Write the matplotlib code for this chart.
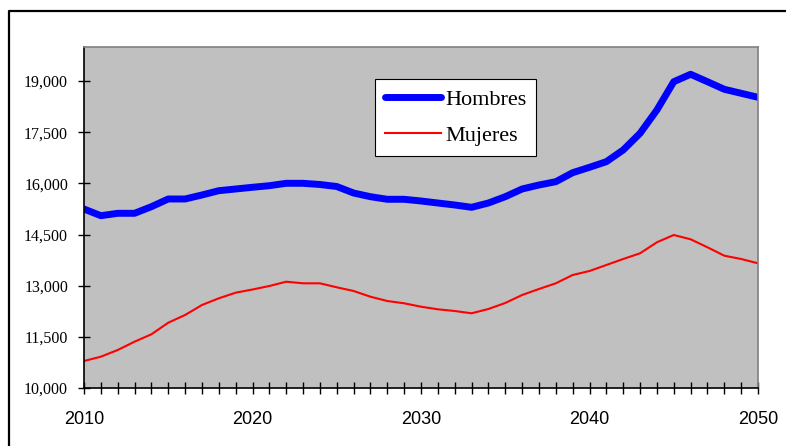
import matplotlib
matplotlib.use("Agg")
import matplotlib.pyplot as plt
from matplotlib.lines import Line2D
from matplotlib.ticker import FuncFormatter

# population series, one value per year
years = list(range(2010, 2051))
hombres = [15249, 15053, 15123, 15123, 15317, 15543, 15543, 15660, 15786, 15836,
           15886, 15933, 16003, 16003, 15968, 15909, 15718, 15610, 15534, 15534,
           15484, 15425, 15367, 15299, 15425, 15610, 15836, 15953, 16050, 16314,
           16472, 16637, 16980, 17469, 18152, 18982, 19200, 18982, 18760, 18642,
           18525]
mujeres = [10792, 10918, 11114, 11358, 11575, 11915, 12141, 12434, 12630, 12795,
           12889, 12991, 13117, 13070, 13070, 12953, 12845, 12677, 12551, 12484,
           12384, 12308, 12258, 12191, 12317, 12493, 12727, 12903, 13070, 13314,
           13431, 13607, 13783, 13950, 14273, 14487, 14361, 14126, 13880, 13783,
           13657]
y_ticks = [10000, 11500, 13000, 14500, 16000, 17500, 19000]
x_labels = [2010, 2020, 2030, 2040, 2050]

W, H = 786, 446
fig = plt.figure(figsize=(W / 100, H / 100), dpi=100)
fig.patch.set_facecolor("white")

# outer chart frame (left and top edges)
fig.add_artist(Line2D([9 / W, 9 / W, 1.0], [0.0, 1 - 11 / H, 1 - 11 / H],
                      color="black", lw=1.6, transform=fig.transFigure))

ax = fig.add_axes([84 / W, (H - 388) / H, (758 - 84) / W, (388 - 47) / H])
ax.set_facecolor("#c0c0c0")

ax.plot(years, hombres, color="#0000ff", lw=5, solid_capstyle="round",
        solid_joinstyle="round", label="Hombres")
ax.plot(years, mujeres, color="#ff0000", lw=1.5, label="Mujeres")

ax.set_xlim(2010, 2050)
ax.set_ylim(10000, 20000)

ax.set_xticks(years)
ax.set_xticklabels([str(y) if y in x_labels else "" for y in years],
                   family="Liberation Sans", fontsize=13)
ax.set_yticks(y_ticks)
ax.yaxis.set_major_formatter(FuncFormatter(lambda v, p: f"{int(v):,}"))
for lab in ax.get_yticklabels():
    lab.set_family("Liberation Serif")
    lab.set_fontsize(11.5)

ax.tick_params(axis="x", direction="inout", length=9, width=1, pad=12)
ax.tick_params(axis="y", direction="inout", length=9, width=1, pad=7)

for side in ("left", "bottom"):
    ax.spines[side].set_color("black")
    ax.spines[side].set_linewidth(1.2)
for side in ("right", "top"):
    ax.spines[side].set_color("#808080")
    ax.spines[side].set_linewidth(1.2)

leg = ax.legend(loc="upper left", bbox_to_anchor=(375 / W, 1 - 79 / H),
                bbox_transform=fig.transFigure, frameon=True, fancybox=False,
                shadow=False, framealpha=1, edgecolor="black",
                prop={"family": "Liberation Serif", "size": 16},
                handlelength=2.5, handletextpad=0.2, labelspacing=0.72,
                borderpad=0.45, borderaxespad=0)
leg.get_frame().set_linewidth(0.8)

fig.savefig("out.png", dpi=100)
